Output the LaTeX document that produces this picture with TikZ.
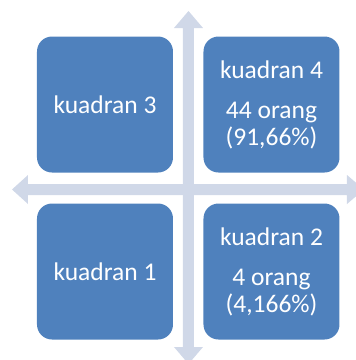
\documentclass[tikz,border=0pt]{standalone}
\usepackage{fontspec}
\setmainfont{Carlito}
\begin{document}
\begin{tikzpicture}[x=1pt,y=-1pt,
  quad/.style={fill=boxblue, draw=none, rounded corners=15pt, minimum width=136pt, minimum height=136pt, inner sep=0pt,
    text=white, align=center, font=\fontsize{25.5}{27}\selectfont},
  axisarrow/.style={fill=axisgray, draw=none}]
\definecolor{boxblue}{HTML}{4F81BD}
\definecolor{axisgray}{HTML}{D0D8E8}
\useasboundingbox (0,0) rectangle (356,360);
% vertical axis
\fill[axisgray] (183,28) -- (174,28) -- (188.5,11) -- (203,28) -- (194,28) -- (194,347) -- (203,347) -- (188.5,364) -- (174,347) -- (183,347) -- cycle;
% horizontal axis
\fill[axisgray] (28,184) -- (28,175) -- (12,189.5) -- (28,204) -- (28,195) -- (347,195) -- (347,204) -- (364,189.5) -- (347,175) -- (347,184) -- cycle;
% quadrants
\node[quad] (k3) at (105,104.5) {kuadran 3};
\node[quad] (k4) at (271.5,104.5) {kuadran 4\\[13pt]44 orang\\(91,66\%)};
\node[quad] (k1) at (105,271.5) {kuadran 1};
\node[quad] (k2) at (271.5,271.5) {kuadran 2\\[13pt]4 orang\\(4,166\%)};
\end{tikzpicture}
\end{document}
